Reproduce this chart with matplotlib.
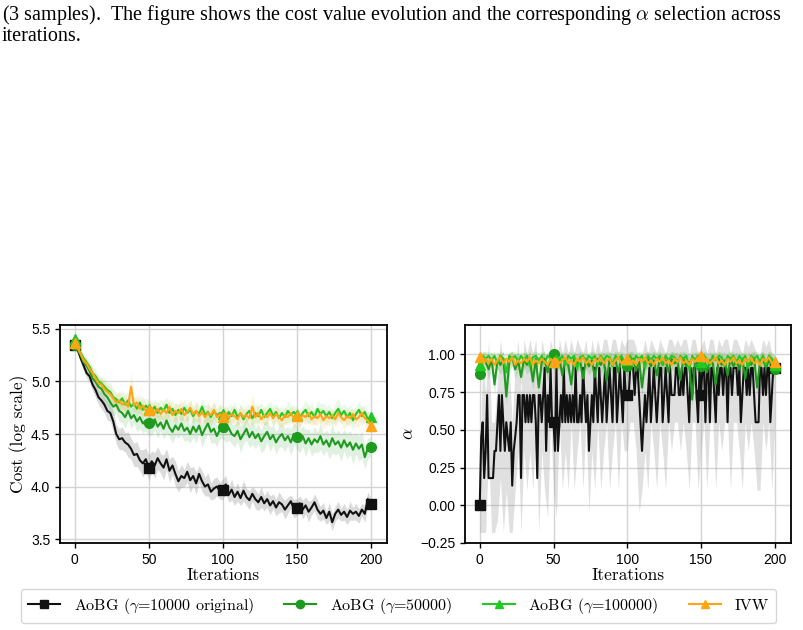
import numpy as np
import matplotlib
matplotlib.use("Agg")
import matplotlib.pyplot as plt
from matplotlib.lines import Line2D

plt.rcParams['mathtext.fontset'] = 'cm'
plt.rcParams['font.family'] = ['Liberation Sans', 'DejaVu Sans']
plt.rcParams['axes.unicode_minus'] = True

# ---------------- data ----------------
iterations = list(range(0, 201, 2))
iterations_all = list(range(0, 201))
xticks = [0, 50, 100, 150, 200]
cost_yticks = [3.5, 4.0, 4.5, 5.0, 5.5]
alpha_yticks = [-0.25, 0.0, 0.25, 0.5, 0.75, 1.0]

labels = [r"AoBG ($\gamma$=10000 original)", r"AoBG ($\gamma$=50000)",
          r"AoBG ($\gamma$=100000)", "IVW"]

cost_g10k = [5.35, 5.30, 5.22, 5.15, 5.08, 5.05, 4.97, 4.92, 4.85, 4.82,
             4.78, 4.72, 4.70, 4.62, 4.50, 4.45, 4.46, 4.42, 4.40, 4.36,
             4.30, 4.31, 4.25, 4.22, 4.26, 4.18, 4.24, 4.20, 4.27, 4.22,
             4.18, 4.26, 4.15, 4.20, 4.12, 4.05, 4.10, 4.08, 4.14, 4.06,
             4.10, 4.03, 4.12, 4.05, 4.00, 4.02, 3.95, 3.98, 4.00, 3.96,
             3.97, 4.02, 3.92, 3.97, 3.90, 3.95, 3.89, 3.96, 3.90, 3.87,
             3.93, 3.88, 3.85, 3.90, 3.84, 3.88, 3.82, 3.86, 3.80, 3.85,
             3.83, 3.78, 3.82, 3.86, 3.79, 3.80, 3.84, 3.78, 3.82, 3.76,
             3.80, 3.85, 3.78, 3.74, 3.77, 3.70, 3.76, 3.66, 3.74, 3.78,
             3.73, 3.76, 3.71, 3.77, 3.74, 3.76, 3.72, 3.78, 3.74, 3.88, 3.83]
cost_g50k = [5.35, 5.30, 5.25, 5.18, 5.15, 5.10, 5.03, 5.00, 4.95, 4.93,
             4.88, 4.85, 4.80, 4.76, 4.78, 4.72, 4.70, 4.66, 4.72, 4.65,
             4.68, 4.62, 4.66, 4.60, 4.63, 4.60, 4.58, 4.64, 4.57, 4.61,
             4.55, 4.63, 4.56, 4.52, 4.58, 4.54, 4.60, 4.53, 4.56, 4.50,
             4.57, 4.52, 4.58, 4.49, 4.55, 4.60, 4.52, 4.55, 4.48, 4.54,
             4.57, 4.52, 4.56, 4.50, 4.48, 4.53, 4.45, 4.50, 4.55, 4.47,
             4.52, 4.46, 4.50, 4.43, 4.48, 4.52, 4.45, 4.49, 4.42, 4.47,
             4.50, 4.44, 4.48, 4.42, 4.50, 4.47, 4.43, 4.48, 4.41, 4.46,
             4.40, 4.45, 4.42, 4.48, 4.40, 4.44, 4.38, 4.46, 4.40, 4.43,
             4.37, 4.44, 4.38, 4.42, 4.35, 4.41, 4.36, 4.40, 4.28, 4.36, 4.38]
cost_g100k = [5.40, 5.33, 5.27, 5.22, 5.18, 5.14, 5.08, 5.05, 5.00, 4.98,
              4.95, 4.92, 4.90, 4.85, 4.83, 4.80, 4.84, 4.78, 4.82, 4.76,
              4.79, 4.74, 4.80, 4.73, 4.77, 4.74, 4.71, 4.76, 4.70, 4.75,
              4.72, 4.78, 4.70, 4.74, 4.68, 4.73, 4.69, 4.75, 4.70, 4.73,
              4.67, 4.72, 4.69, 4.76, 4.68, 4.71, 4.66, 4.72, 4.68, 4.70,
              4.69, 4.64, 4.71, 4.67, 4.73, 4.66, 4.70, 4.64, 4.69, 4.72,
              4.65, 4.70, 4.67, 4.73, 4.66, 4.70, 4.74, 4.67, 4.71, 4.65,
              4.70, 4.66, 4.72, 4.68, 4.71, 4.68, 4.64, 4.70, 4.73, 4.67,
              4.71, 4.66, 4.74, 4.69, 4.72, 4.67, 4.71, 4.65, 4.70, 4.74,
              4.68, 4.72, 4.66, 4.70, 4.63, 4.69, 4.73, 4.67, 4.71, 4.64, 4.66]
cost_ivw = [5.37, 5.32, 5.26, 5.20, 5.17, 5.12, 5.08, 5.03, 4.98, 4.97,
            4.93, 4.90, 4.88, 4.84, 4.80, 4.82, 4.78, 4.80, 4.76, 4.95,
            4.77, 4.80, 4.74, 4.77, 4.72, 4.73, 4.75, 4.70, 4.74, 4.69,
            4.73, 4.70, 4.76, 4.68, 4.72, 4.70, 4.74, 4.68, 4.71, 4.75,
            4.69, 4.72, 4.67, 4.71, 4.66, 4.70, 4.68, 4.73, 4.66, 4.69,
            4.66, 4.70, 4.65, 4.69, 4.67, 4.64, 4.70, 4.66, 4.68, 4.65,
            4.76, 4.66, 4.70, 4.64, 4.68, 4.66, 4.70, 4.65, 4.69, 4.66,
            4.63, 4.68, 4.66, 4.70, 4.65, 4.67, 4.64, 4.68, 4.66, 4.70,
            4.64, 4.67, 4.65, 4.69, 4.63, 4.67, 4.65, 4.68, 4.64, 4.70,
            4.66, 4.63, 4.67, 4.65, 4.69, 4.64, 4.66, 4.70, 4.65, 4.63, 4.58]

cost_g10k_sd = [0.02, 0.03, 0.04, 0.05, 0.05, 0.06, 0.06, 0.07, 0.07, 0.08,
                0.08, 0.09, 0.08, 0.10, 0.09, 0.10, 0.11, 0.09, 0.12, 0.10,
                0.11, 0.12, 0.10, 0.13, 0.11, 0.12, 0.10, 0.12, 0.11, 0.09,
                0.12, 0.10, 0.11, 0.09, 0.12, 0.10, 0.11, 0.08, 0.10, 0.12,
                0.09, 0.11, 0.08, 0.10, 0.09, 0.11, 0.08, 0.10, 0.09, 0.08,
                0.10, 0.09, 0.07, 0.10, 0.08, 0.09, 0.07, 0.10, 0.08, 0.09,
                0.07, 0.09, 0.08, 0.10, 0.07, 0.08, 0.09, 0.07, 0.08, 0.10,
                0.07, 0.09, 0.08, 0.06, 0.09, 0.08, 0.07, 0.09, 0.08, 0.10,
                0.07, 0.08, 0.09, 0.07, 0.08, 0.06, 0.09, 0.08, 0.07, 0.08,
                0.06, 0.08, 0.07, 0.09, 0.06, 0.08, 0.07, 0.06, 0.08, 0.07, 0.06]
cost_g50k_sd = [0.03, 0.04, 0.05, 0.05, 0.06, 0.06, 0.07, 0.07, 0.08, 0.08,
                0.09, 0.08, 0.10, 0.09, 0.08, 0.10, 0.09, 0.11, 0.09, 0.10,
                0.08, 0.10, 0.11, 0.09, 0.10, 0.12, 0.09, 0.10, 0.11, 0.08,
                0.10, 0.12, 0.09, 0.11, 0.10, 0.08, 0.11, 0.10, 0.12, 0.09,
                0.10, 0.11, 0.09, 0.12, 0.10, 0.09, 0.11, 0.13, 0.10, 0.09,
                0.11, 0.10, 0.12, 0.09, 0.11, 0.10, 0.13, 0.09, 0.11, 0.10,
                0.12, 0.10, 0.09, 0.11, 0.13, 0.10, 0.12, 0.09, 0.11, 0.10,
                0.12, 0.11, 0.09, 0.13, 0.10, 0.12, 0.11, 0.10, 0.13, 0.09,
                0.11, 0.12, 0.10, 0.13, 0.11, 0.10, 0.12, 0.14, 0.10, 0.11,
                0.13, 0.10, 0.12, 0.11, 0.14, 0.10, 0.12, 0.13, 0.11, 0.10, 0.09]
cost_g100k_sd = [0.03, 0.03, 0.04, 0.05, 0.05, 0.06, 0.06, 0.07, 0.06, 0.07,
                 0.08, 0.07, 0.09, 0.08, 0.07, 0.09, 0.08, 0.10, 0.08, 0.09,
                 0.07, 0.09, 0.08, 0.10, 0.07, 0.09, 0.08, 0.07, 0.09, 0.08,
                 0.10, 0.07, 0.09, 0.08, 0.10, 0.07, 0.08, 0.09, 0.07, 0.10,
                 0.08, 0.09, 0.07, 0.08, 0.10, 0.07, 0.09, 0.08, 0.07, 0.09,
                 0.08, 0.10, 0.07, 0.09, 0.08, 0.07, 0.09, 0.10, 0.08, 0.07,
                 0.09, 0.08, 0.10, 0.07, 0.08, 0.09, 0.07, 0.10, 0.08, 0.09,
                 0.07, 0.08, 0.10, 0.09, 0.07, 0.08, 0.09, 0.07, 0.10, 0.08,
                 0.09, 0.07, 0.08, 0.10, 0.07, 0.09, 0.08, 0.07, 0.09, 0.10,
                 0.08, 0.07, 0.09, 0.08, 0.10, 0.07, 0.08, 0.09, 0.07, 0.08, 0.06]
cost_ivw_sd = [0.02, 0.03, 0.04, 0.04, 0.05, 0.05, 0.06, 0.05, 0.06, 0.07,
               0.06, 0.07, 0.08, 0.06, 0.07, 0.09, 0.06, 0.08, 0.07, 0.15,
               0.07, 0.08, 0.06, 0.09, 0.07, 0.08, 0.06, 0.09, 0.07, 0.06,
               0.08, 0.07, 0.09, 0.06, 0.08, 0.07, 0.10, 0.06, 0.08, 0.07,
               0.06, 0.09, 0.07, 0.08, 0.06, 0.10, 0.07, 0.08, 0.06, 0.09,
               0.07, 0.08, 0.06, 0.07, 0.09, 0.06, 0.08, 0.07, 0.06, 0.09,
               0.12, 0.07, 0.08, 0.06, 0.09, 0.07, 0.06, 0.08, 0.07, 0.09,
               0.06, 0.08, 0.07, 0.06, 0.09, 0.07, 0.08, 0.06, 0.07, 0.09,
               0.06, 0.08, 0.07, 0.06, 0.09, 0.07, 0.08, 0.06, 0.07, 0.08,
               0.06, 0.09, 0.07, 0.08, 0.06, 0.07, 0.09, 0.06, 0.08, 0.07, 0.06]

# black alpha line: every iteration
alpha_g10k = [0.00, 0.45, 0.55, 0.18, 0.36, 0.73, 0.18, 0.18, 0.18, 0.18,
              0.36, 0.36, 0.55, 0.73, 0.36, 0.73, 0.55, 0.36, 0.55, 0.45,
              0.36, 0.55, 0.13, 0.36, 0.45, 0.55, 0.73, 0.73, 0.18, 0.73,
              0.73, 0.55, 0.73, 0.55, 0.73, 0.55, 0.73, 0.73, 0.55, 0.18,
              0.73, 0.73, 0.55, 0.73, 0.91, 0.36, 0.73, 0.55, 0.91, 0.55,
              0.55, 0.36, 0.91, 0.36, 0.55, 0.73, 0.55, 0.91, 0.55, 0.73,
              0.55, 0.73, 0.55, 0.73, 0.55, 0.91, 0.55, 0.55, 0.73, 0.55,
              0.91, 0.73, 0.55, 0.73, 0.36, 0.55, 0.73, 0.55, 0.91, 0.73,
              0.55, 0.91, 0.73, 0.55, 0.73, 0.91, 0.55, 0.73, 0.91, 0.73,
              0.55, 0.91, 0.91, 0.55, 0.73, 0.91, 0.73, 0.55, 0.91, 0.73,
              0.73, 0.73, 0.91, 0.91, 0.91, 0.73, 0.91, 0.91, 0.73, 0.55,
              0.36, 0.55, 0.73, 0.55, 0.73, 0.91, 0.55, 0.73, 0.91, 0.73,
              0.55, 0.73, 0.91, 0.91, 0.55, 0.73, 0.91, 0.73, 0.55, 0.91,
              0.73, 0.73, 0.73, 0.91, 0.91, 0.73, 0.73, 0.91, 0.73, 0.91,
              0.91, 0.73, 0.55, 0.91, 0.73, 0.91, 0.91, 0.73, 0.55, 0.91,
              0.73, 0.91, 0.91, 0.55, 0.91, 0.91, 0.55, 0.91, 0.91, 0.73,
              0.55, 0.91, 0.73, 0.91, 0.91, 0.73, 0.91, 0.91, 0.55, 0.91,
              0.91, 0.73, 0.91, 0.91, 0.91, 0.73, 0.91, 0.55, 0.73, 0.91,
              0.91, 0.73, 0.91, 0.73, 0.91, 0.91, 0.73, 0.55, 0.55, 0.55,
              0.91, 0.91, 0.73, 0.91, 0.73, 0.91, 0.91, 0.55, 0.73, 0.91, 0.91]
alpha_g10k_lo = [-0.18, -0.18, -0.18, 0.36, -0.18, -0.18, -0.10, 0.18, -0.18, 0.10,
                 -0.18, -0.18, 0.10, 0.36, -0.18, 0.36, 0.10, 0.36, 0.10, 0.55,
                 -0.18, 0.36, 0.10, -0.08, 0.55, 0.10, -0.08, 0.55, 0.10, 0.36,
                 0.10, 0.55, 0.10, 0.36, 0.55, 0.10, 0.55, -0.05, 0.36, 0.10,
                 0.55, 0.10, 0.36, 0.55, 0.10, 0.36, 0.55, 0.10, 0.55, 0.36,
                 0.36, 0.55, 0.55, 0.36, -0.05, 0.10, 0.36, 0.10, 0.55, 0.36,
                 0.10, 0.55, 0.36, 0.10, 0.55, 0.36, 0.55, 0.55, 0.36, 0.55,
                 0.36, 0.10, 0.55, 0.55, 0.10, 0.36, 0.55, 0.10, 0.55, 0.55,
                 0.10, 0.55, 0.36, 0.55, 0.55, 0.10, 0.55, 0.55, 0.36, 0.10,
                 0.55, 0.36, 0.55, 0.36, 0.10, 0.10, 0.55, 0.36, 0.55, 0.10, 0.55]
alpha_g10k_hi = [0.18, 1.00, 0.73, 1.10, 0.55, 0.55, 0.82, 1.10, 0.91, 1.00,
                 0.91, 0.55, 0.91, 1.10, 0.73, 1.10, 1.00, 1.10, 1.00, 1.10,
                 0.73, 1.10, 1.00, 0.91, 1.10, 1.00, 0.91, 1.10, 1.00, 1.10,
                 1.00, 1.10, 1.00, 1.10, 1.05, 1.00, 1.10, 0.91, 1.10, 1.00,
                 1.10, 1.00, 1.10, 1.10, 1.00, 1.10, 1.10, 1.00, 1.10, 1.05,
                 1.10, 1.10, 1.10, 1.05, 0.91, 1.00, 1.10, 1.00, 1.10, 1.05,
                 1.00, 1.10, 1.05, 1.00, 1.10, 1.10, 1.05, 1.10, 1.05, 1.10,
                 1.10, 1.00, 1.10, 1.10, 1.00, 1.05, 1.10, 1.00, 1.10, 1.10,
                 1.00, 1.10, 1.05, 1.10, 1.10, 1.00, 1.10, 1.10, 1.05, 1.00,
                 1.10, 1.05, 1.10, 1.05, 1.00, 1.00, 1.10, 1.05, 1.10, 1.00, 1.00]
alpha_g50k = [0.87, 0.97, 0.95, 0.90, 0.97, 0.80, 0.96, 0.93, 0.97, 0.72,
              0.95, 0.98, 0.90, 0.96, 0.85, 0.97, 0.93, 0.96, 0.82, 0.97,
              0.78, 0.95, 0.97, 0.88, 0.96, 1.00, 0.94, 0.97, 0.86, 0.96,
              0.93, 0.80, 0.97, 0.94, 0.96, 0.84, 0.97, 0.92, 0.96, 0.85,
              0.97, 0.93, 0.96, 0.82, 0.97, 0.94, 0.96, 0.88, 0.97, 0.90,
              0.92, 0.96, 0.97, 0.89, 0.96, 0.78, 0.95, 0.97, 0.92, 0.96,
              0.86, 0.97, 0.93, 0.96, 0.88, 0.97, 0.94, 0.96, 0.83, 0.97,
              0.92, 0.95, 0.70, 0.96, 0.93, 0.92, 0.97, 0.88, 0.96, 0.94,
              0.80, 0.97, 0.93, 0.96, 0.86, 0.97, 0.92, 0.96, 0.90, 0.97,
              0.84, 0.96, 0.93, 0.97, 0.78, 0.95, 0.97, 0.91, 0.96, 0.93, 0.90]
alpha_g100k = [0.93, 0.99, 0.97, 0.99, 0.96, 0.99, 0.94, 0.99, 0.97, 0.88,
               0.99, 0.97, 0.99, 0.95, 0.99, 0.96, 0.99, 0.92, 0.98, 0.99,
               0.96, 0.99, 0.94, 0.99, 0.97, 0.95, 0.99, 0.96, 0.99, 0.93,
               0.99, 0.97, 0.99, 0.90, 0.98, 0.99, 0.95, 0.99, 0.97, 0.99,
               0.93, 0.99, 0.96, 0.99, 0.98, 0.92, 0.99, 0.97, 0.99, 0.95,
               0.96, 0.99, 0.94, 0.99, 0.97, 0.99, 0.91, 0.99, 0.96, 0.99,
               0.97, 0.99, 0.93, 0.99, 0.96, 0.99, 0.98, 0.94, 0.99, 0.97,
               0.99, 0.90, 0.99, 0.96, 0.99, 0.95, 0.99, 0.97, 0.93, 0.99,
               0.96, 0.99, 0.98, 0.92, 0.99, 0.97, 0.99, 0.94, 0.99, 0.96,
               0.99, 0.91, 0.99, 0.97, 0.99, 0.95, 0.99, 0.93, 0.99, 0.97, 0.93]
alpha_ivw = [0.98, 0.95, 0.97, 0.94, 0.97, 0.93, 0.96, 0.98, 0.94, 0.97,
             0.95, 0.98, 0.93, 0.96, 0.94, 0.97, 0.95, 0.98, 0.93, 0.96,
             0.94, 0.97, 0.95, 0.93, 0.97, 0.95, 0.97, 0.94, 0.96, 0.98,
             0.94, 0.96, 0.93, 0.97, 0.95, 0.98, 0.94, 0.96, 0.93, 0.97,
             0.95, 0.98, 0.94, 0.96, 0.97, 0.93, 0.96, 0.98, 0.94, 0.96,
             0.97, 0.94, 0.96, 0.93, 0.97, 0.95, 0.98, 0.94, 0.96, 0.93,
             0.97, 0.95, 0.98, 0.94, 0.96, 0.93, 0.97, 0.95, 0.98, 0.94,
             0.96, 0.93, 0.97, 0.95, 0.98, 0.99, 0.95, 0.97, 0.94, 0.96,
             0.98, 0.94, 0.96, 0.93, 0.97, 0.95, 0.98, 0.94, 0.96, 0.93,
             0.97, 0.95, 0.98, 0.94, 0.96, 0.93, 0.97, 0.95, 0.98, 0.94, 0.95]
alpha_band = [0.06, 0.05, 0.04]   # half widths of shaded bands: g50k, g100k, ivw

caption = ("(3 samples).  The figure shows the cost value evolution and the corresponding $\\alpha$ selection across\n"
           "iterations.")

# ---------------- styling ----------------
colors = ['#111111', '#1e9a1e', '#22c922', '#ffa514']
markers = ['s', 'o', '^', '^']
band_colors = ['#9a9a9a', '#1e9a1e', '#22c922', '#ffa514']
band_alphas = [0.35, 0.13, 0.10, 0.15]
serif = 'cmr10'

fig = plt.figure(figsize=(8.04, 6.30), dpi=100)
fig.text(0.002, 0.995, caption, ha='left', va='top', fontsize=14.5,
         family='Liberation Serif', linespacing=1.0)

ax1 = fig.add_axes([60/804, 1-543/630, 327/804, 218/630])
ax2 = fig.add_axes([465/804, 1-543/630, 326/804, 218/630])

x = np.array(iterations)
x_all = np.array(iterations_all)
cost_series = [cost_g10k, cost_g50k, cost_g100k, cost_ivw]
cost_sds = [cost_g10k_sd, cost_g50k_sd, cost_g100k_sd, cost_ivw_sd]
for i, (ys, sd) in enumerate(zip(cost_series, cost_sds)):
    ys = np.array(ys); sd = np.array(sd)
    ax1.fill_between(x, ys - sd, ys + sd, color=band_colors[i], alpha=band_alphas[i], lw=0)
for i, ys in enumerate(cost_series):
    ax1.plot(x, ys, color=colors[i], lw=1.5, marker=markers[i], markevery=25, ms=7)

ax2.fill_between(x, alpha_g10k_lo, alpha_g10k_hi, color=band_colors[0], alpha=0.3, lw=0)
alpha_cols = [alpha_g50k, alpha_g100k, alpha_ivw]
for i in range(1, 4):
    ys = np.array(alpha_cols[i-1])
    ax2.fill_between(x, ys - alpha_band[i-1], np.minimum(ys + alpha_band[i-1], 1.02),
                     color=band_colors[i], alpha=band_alphas[i] + 0.05, lw=0)
ax2.plot(x_all, alpha_g10k, color=colors[0], lw=1.5, marker=markers[0], markevery=50, ms=7)
for i in range(1, 4):
    ax2.plot(x, alpha_cols[i-1], color=colors[i], lw=1.5, marker=markers[i], markevery=25, ms=7)

for ax in (ax1, ax2):
    ax.set_xlim(-10, 211)
    ax.set_xticks(xticks)
    ax.grid(True, color='#d4d4d4', lw=1.0)
    ax.set_axisbelow(True)
    for s in ax.spines.values():
        s.set_linewidth(1.3)
        s.set_color('black')
    ax.tick_params(labelsize=10, length=3.5, width=1.0)
    ax.set_xlabel('Iterations', family=serif, fontsize=12.5, labelpad=1)

ax1.set_ylim(3.462, 5.538)
ax1.set_yticks(cost_yticks)
ax1.set_yticklabels([f"{v:.1f}" for v in cost_yticks])
ax1.set_ylabel('Cost (log scale)', family=serif, fontsize=12.5, labelpad=2)

ax2.set_ylim(-0.25, 1.194)
ax2.set_yticks(alpha_yticks)
ax2.set_yticklabels([f"{v:.2f}".replace('-', '\u2212') for v in alpha_yticks])
ax2.set_ylabel(r'$\alpha$', fontsize=12.5, labelpad=3)

handles = [Line2D([0], [0], color=colors[i], lw=1.5, marker=markers[i], ms=6) for i in range(4)]
leg = fig.legend(handles, labels, loc='lower center', ncol=4,
                 bbox_to_anchor=(398.5/804, 1-623/630), borderaxespad=0,
                 prop={'family': serif, 'size': 11.5}, frameon=True, fancybox=True,
                 edgecolor='#cccccc', handlelength=2.0, handletextpad=0.85,
                 columnspacing=1.9, borderpad=0.45)
leg.get_frame().set_linewidth(1.0)

fig.savefig('out.png', dpi=100)
